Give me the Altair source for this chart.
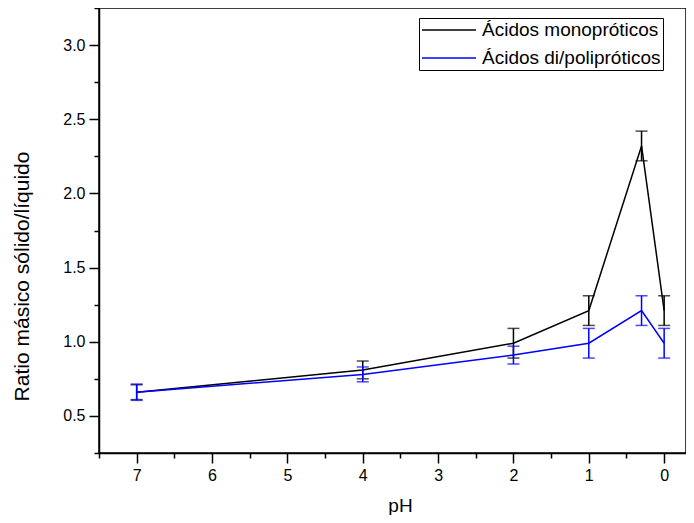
import altair as alt
import pandas as pd

# ---- data ----
ph = [7, 4, 2, 1, 0.3, 0]
mono = [0.66, 0.81, 0.99, 1.21, 2.32, 1.21]
mono_err = [0.05, 0.06, 0.10, 0.10, 0.10, 0.10]
poli = [0.66, 0.78, 0.91, 0.99, 1.21, 0.99]
poli_err = [0.055, 0.05, 0.06, 0.10, 0.10, 0.10]
series_names = ["Ácidos monopróticos", "Ácidos di/polipróticos"]
series_colors = ["#000000", "#0000FF"]
x_major = [0, 1, 2, 3, 4, 5, 6, 7]
x_minor = [0.5, 1.5, 2.5, 3.5, 4.5, 5.5, 6.5, 7.5]
y_major = [0.5, 1.0, 1.5, 2.0, 2.5, 3.0]
y_minor = [0.25, 0.75, 1.25, 1.75, 2.25, 2.75, 3.25]


def frame(vals, errs, name):
    return pd.DataFrame({
        "pH": ph,
        "ratio": vals,
        "lo": [v - e for v, e in zip(vals, errs)],
        "hi": [v + e for v, e in zip(vals, errs)],
        "series": name,
    })


df_mono = frame(mono, mono_err, series_names[0])
df_poli = frame(poli, poli_err, series_names[1])
df_all = pd.concat([df_mono, df_poli])

FONT = "Liberation Sans"
xscale = alt.Scale(domain=[-0.29, 7.5], reverse=True, nice=False, zero=False)
yscale = alt.Scale(domain=[0.25, 3.25], nice=False, zero=False)
cscale = alt.Scale(domain=series_names, range=series_colors)

legend = alt.Legend(
    title=None, orient="none", legendX=320, legendY=10,
    strokeColor="black", fillColor="white", padding=2,
    symbolType="M-3,0H3", symbolSize=324, symbolStrokeWidth=1.5,
    symbolFillColor="transparent", symbolOffset=18, labelOffset=23,
    labelFont=FONT, labelFontSize=19, labelColor="black", labelLimit=400,
    rowPadding=8,
)

ax_x = alt.Axis(values=x_major, format="d", title="pH", orient="bottom",
                tickSize=10, tickWidth=1.5, tickColor="black",
                domainColor="black", domainWidth=1.5, grid=False,
                labelFont=FONT, labelFontSize=16, labelColor="black", labelPadding=4,
                titleFont=FONT, titleFontSize=19, titleFontWeight="normal",
                titleColor="black", titleX=301, titleY=58, titleAlign="center",
                titleBaseline="alphabetic")
ax_y = alt.Axis(values=y_major, format=".1f", title="Ratio másico sólido/líquido",
                orient="left", tickSize=10, tickWidth=1.5, tickColor="black",
                domainColor="black", domainWidth=1.5, grid=False,
                labelFont=FONT, labelFontSize=16, labelColor="black", labelPadding=4,
                titleFont=FONT, titleFontSize=21, titleFontWeight="normal",
                titleColor="black", titleX=-77, titleY=268, titleAlign="center",
                titleBaseline="middle")
ax_x_minor = alt.Axis(values=x_minor, labels=False, domain=False, title=None,
                      orient="bottom", tickSize=5, tickWidth=1.5, tickColor="black",
                      grid=False)
ax_y_minor = alt.Axis(values=y_minor, labels=False, domain=False, title=None,
                      orient="left", tickSize=5, tickWidth=1.5, tickColor="black",
                      grid=False)


def series_layers(df, with_axes):
    base = alt.Chart(df)
    xa = ax_x if with_axes else None
    ya = ax_y if with_axes else None
    color = alt.Color("series:N", scale=cscale, legend=legend if with_axes else None)
    line = base.mark_line(strokeWidth=1.5).encode(
        x=alt.X("pH:Q", scale=xscale, axis=xa),
        y=alt.Y("ratio:Q", scale=yscale, axis=ya),
        color=color,
    )
    rule = base.mark_rule(strokeWidth=1.5).encode(
        x=alt.X("pH:Q", scale=xscale, axis=None),
        y=alt.Y("lo:Q", scale=yscale, axis=None),
        y2="hi:Q",
        color=alt.Color("series:N", scale=cscale, legend=None),
    )
    cap_lo = base.mark_tick(orient="horizontal", size=12, thickness=1.5).encode(
        x=alt.X("pH:Q", scale=xscale, axis=None),
        y=alt.Y("lo:Q", scale=yscale, axis=None),
        color=alt.Color("series:N", scale=cscale, legend=None),
    )
    cap_hi = base.mark_tick(orient="horizontal", size=12, thickness=1.5).encode(
        x=alt.X("pH:Q", scale=xscale, axis=None),
        y=alt.Y("hi:Q", scale=yscale, axis=None),
        color=alt.Color("series:N", scale=cscale, legend=None),
    )
    return [line, rule, cap_lo, cap_hi]


minor = alt.Chart(df_all).mark_point(opacity=0).encode(
    x=alt.X("pH:Q", scale=xscale, axis=ax_x_minor),
    y=alt.Y("ratio:Q", scale=yscale, axis=ax_y_minor),
)

layers = [minor] + series_layers(df_mono, True) + series_layers(df_poli, False)

chart = alt.layer(*layers).resolve_axis(x="independent", y="independent").properties(
    width=587, height=445,
    autosize=alt.AutoSizeParams(type="none"),
    padding={"left": 91, "top": 0, "right": 0, "bottom": 62},
    background="white",
).configure_view(stroke="black", strokeWidth=1.5)

chart.save("out.html", embed_options={"renderer": "svg", "actions": False})
